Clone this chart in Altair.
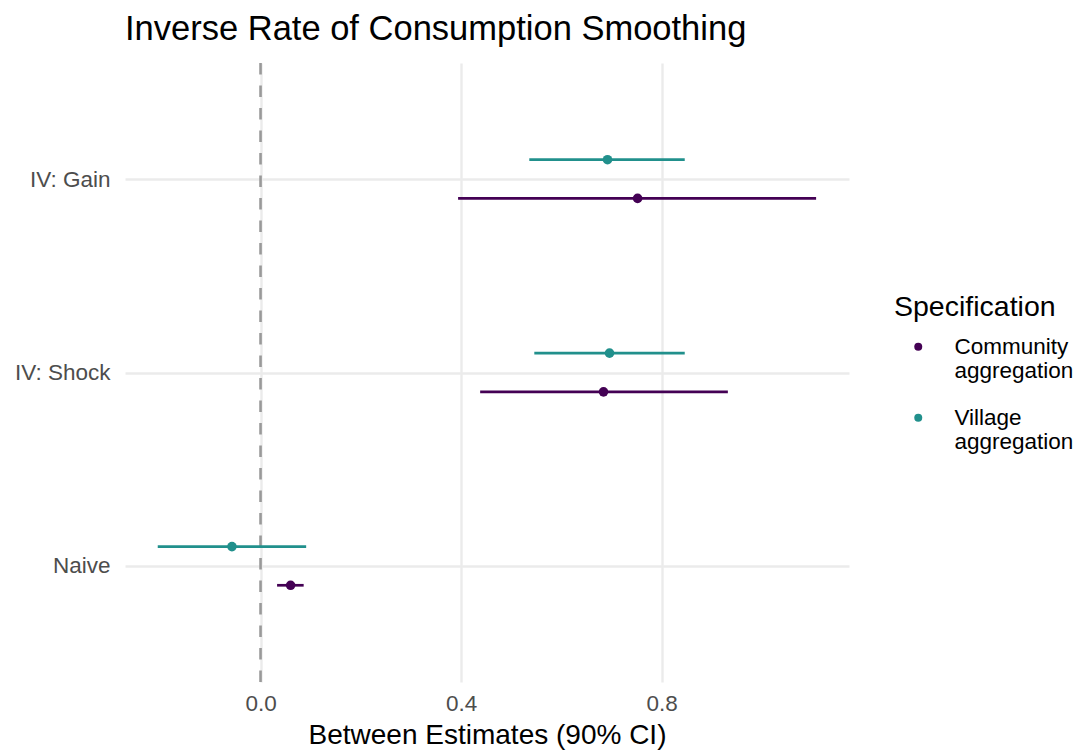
import json
import altair as alt
import pandas as pd

# ---- data ----
model_order = ["Naive", "IV: Shock", "IV: Gain"]          # bottom -> top
spec_order = ["Community aggregation", "Village aggregation"]
spec_colors = ["#440154", "#21908C"]

models   = ["IV: Gain", "IV: Gain", "IV: Shock", "IV: Shock", "Naive", "Naive"]
specs    = ["Community aggregation", "Village aggregation",
            "Community aggregation", "Village aggregation",
            "Community aggregation", "Village aggregation"]
estimate = [0.752, 0.692, 0.684, 0.696, 0.060, -0.057]
lower    = [0.394, 0.536, 0.438, 0.546, 0.033, -0.205]
upper    = [1.108, 0.846, 0.932, 0.846, 0.086, 0.091]

x_ticks = [0.0, 0.4, 0.8]
zero_line = [0.0]

df = pd.DataFrame({"model": models, "spec": specs, "estimate": estimate,
                   "lower": lower, "upper": upper})

FONT = "Liberation Sans"
order_js = json.dumps(model_order)
ypos_expr = (f"indexof({order_js}, datum.model) + 1 + "
             f"(datum.spec == '{spec_order[1]}' ? 0.1 : -0.1)")

xscale = alt.Scale(domain=[-0.2703, 1.1736], nice=False, zero=False)
yscale = alt.Scale(domain=[0.4, 3.6], nice=False, zero=False)

xaxis = alt.Axis(values=x_ticks, format=".1f", title="Between Estimates (90% CI)",
                 grid=True, ticks=False, tickSize=0, domain=False,
                 labelFontSize=22.5, labelColor="#4D4D4D", labelFont=FONT,
                 labelPadding=10, titleFontSize=28, titleColor="black",
                 titleFont=FONT, titleFontWeight="normal", titlePadding=7)
yaxis = alt.Axis(values=[1, 2, 3], labelExpr=f"{order_js}[datum.value - 1]",
                 title=None, grid=True, ticks=False, tickSize=0, domain=False,
                 labelFontSize=22.5, labelColor="#4D4D4D", labelFont=FONT,
                 labelPadding=15)

base = alt.Chart(df).transform_calculate(ypos=ypos_expr)

zero = alt.Chart(pd.DataFrame({"x": zero_line})).mark_rule(
    color="#999999", strokeWidth=2.6, strokeDash=[11.5, 11]
).encode(x=alt.X("x:Q", scale=xscale, axis=xaxis))

# same colour mapping, listed in reverse so its (hidden) legend is kept apart
bars = base.mark_rule(strokeWidth=2.7).encode(
    x=alt.X("lower:Q", scale=xscale, axis=xaxis),
    x2="upper:Q",
    y=alt.Y("ypos:Q", scale=yscale, axis=yaxis),
    stroke=alt.Stroke("spec:N",
                      scale=alt.Scale(domain=spec_order[::-1],
                                      range=spec_colors[::-1]),
                      legend=None),
)

points = base.mark_circle(size=92, opacity=1).encode(
    x=alt.X("estimate:Q", scale=xscale, axis=xaxis),
    y=alt.Y("ypos:Q", scale=yscale, axis=yaxis),
    color=alt.Color("spec:N",
                    scale=alt.Scale(domain=spec_order, range=spec_colors),
                    legend=alt.Legend(
                        title="Specification", orient="none",
                        legendX=769, legendY=230,
                        symbolType="circle", symbolSize=64,
                        symbolOffset=13, labelOffset=25,
                        labelExpr="split(datum.label, ' ')",
                        labelFontSize=22.5, labelColor="black", labelFont=FONT,
                        titleFontSize=28.5, titleColor="black", titleFont=FONT,
                        titleFontWeight="normal", titlePadding=14,
                        rowPadding=23, labelBaseline="middle")),
)

chart = alt.layer(zero, bars, points).properties(
    width=724, height=619,
    title=alt.Title("Inverse Rate of Consumption Smoothing", anchor="start",
                    frame="group", fontSize=34.5, font=FONT, fontWeight="normal",
                    color="black", baseline="alphabetic", offset=22, dy=35),
    autosize=alt.AutoSizeParams(type="none"),
    padding={"left": 117, "top": 55, "right": 227, "bottom": 80},
).configure_view(stroke=None).configure_axis(
    gridColor="#EBEBEB", gridWidth=2.4
)

chart.save("out.html", embed_options={"renderer": "svg", "actions": False})
